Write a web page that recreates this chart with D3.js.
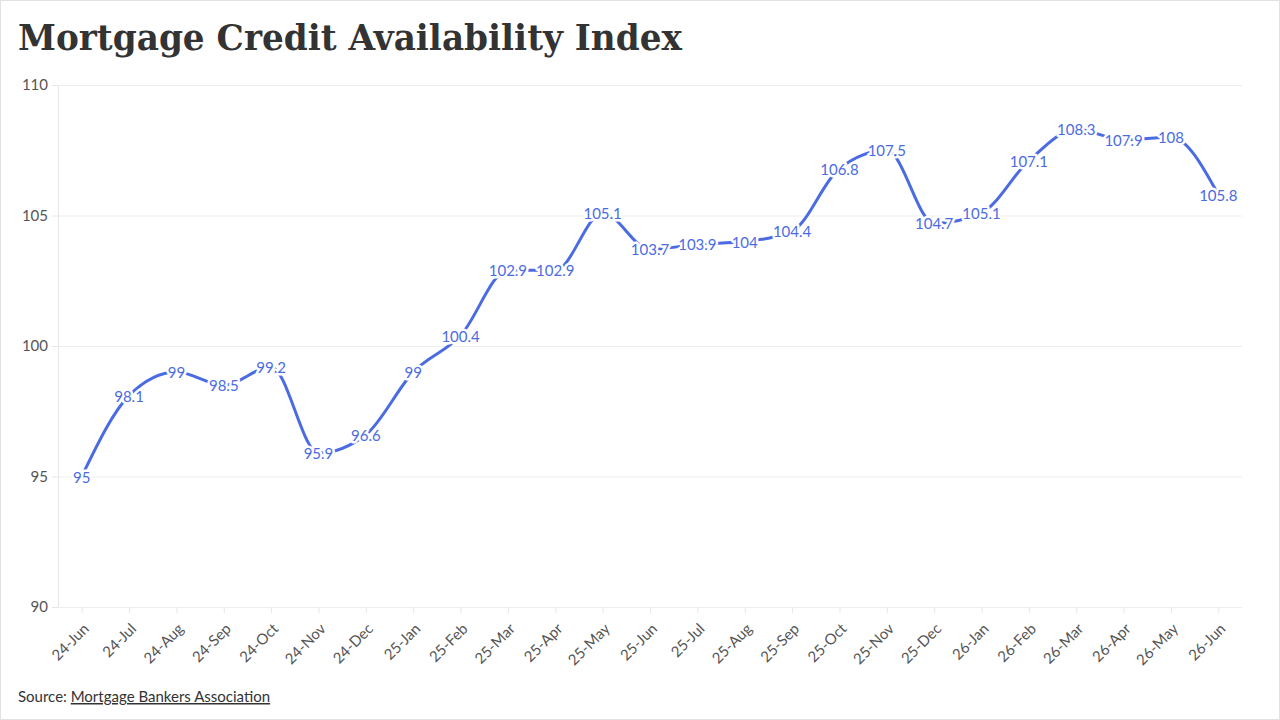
<!DOCTYPE html>
<html>
<head>
<meta charset="utf-8">
<script src="https://cdn.jsdelivr.net/npm/d3@7"></script>
<style>
  body { margin: 0; background: #fff; }
  text { font-family: Lato, "Noto Sans", sans-serif; }
</style>
</head>
<body>
<div id="chart"></div>
<script>
// Chart data
const months = ["24-Jun","24-Jul","24-Aug","24-Sep","24-Oct","24-Nov","24-Dec","25-Jan","25-Feb","25-Mar","25-Apr","25-May",
                "25-Jun","25-Jul","25-Aug","25-Sep","25-Oct","25-Nov","25-Dec","26-Jan","26-Feb","26-Mar","26-Apr","26-May","26-Jun"]
const values = [95, 98.1, 99, 98.5, 99.2, 95.9, 96.6, 99, 100.4, 102.9, 102.9, 105.1,
                103.7, 103.9, 104, 104.4, 106.8, 107.5, 104.7, 105.1, 107.1, 108.3, 107.9, 108, 105.8]
const yTicks = [90, 95, 100, 105, 110]

const title = "Mortgage Credit Availability Index"
const sourceName = "Mortgage Bankers Association"

// Chart parameters
const WIDTH = 1280
const HEIGHT = 720
const PLOT = {LEFT: 58, RIGHT: 1242, TOP: 85, BOTTOM: 607}
const LINE_COLOUR = "#4b6be3"

const data = months.map((m, i) => ({month: m, value: values[i]}))

const svg = d3.select("#chart").append("svg")
    .attr("width", WIDTH)
    .attr("height", HEIGHT)

// Light frame round the picture
svg.append("rect")
    .attr("x", 0.5).attr("y", 0.5)
    .attr("width", WIDTH - 1).attr("height", HEIGHT - 1)
    .attr("fill", "#fff")
    .attr("stroke", "#e2e2e2")

// Title
svg.append("text")
    .attr("x", 18)
    .attr("y", 50)
    .style("font-family", "'DejaVu Serif', 'Liberation Serif', serif")
    .style("font-weight", "bold")
    .style("font-size", "35px")
    .attr("textLength", 664)
    .attr("lengthAdjust", "spacingAndGlyphs")
    .attr("fill", "#333")
    .text(title)

// Scales
const xScale = d3.scalePoint()
    .domain(months)
    .range([PLOT.LEFT, PLOT.RIGHT])
    .padding(0.5)

const yScale = d3.scaleLinear()
    .domain([90, 110])
    .range([PLOT.BOTTOM, PLOT.TOP])

// Y axis with gridlines
const yAxis = svg.append("g")
    .attr("transform", "translate(" + PLOT.LEFT + ",0)")
    .call(d3.axisLeft(yScale).tickValues(yTicks).tickSize(6).tickPadding(4))
yAxis.select(".domain").attr("stroke", "#e6e6e6")
yAxis.selectAll(".tick line").attr("stroke", "#e6e6e6")
yAxis.selectAll(".tick text")
    .attr("fill", "#555")
    .style("font-size", "15px")
yAxis.selectAll(".tick").append("line")
    .attr("x1", 0).attr("x2", PLOT.RIGHT - PLOT.LEFT)
    .attr("stroke", "#eeeeee")

// X axis
const xAxis = svg.append("g")
    .attr("transform", "translate(0," + PLOT.BOTTOM + ")")
    .call(d3.axisBottom(xScale).tickSize(6))
xAxis.select(".domain").remove()
xAxis.selectAll(".tick line").attr("stroke", "#e6e6e6")
xAxis.selectAll(".tick text")
    .attr("fill", "#555")
    .style("font-size", "15px")
    .attr("text-anchor", "end")
    .attr("x", 0)
    .attr("y", 0)
    .attr("dy", "0.35em")
    .attr("transform", "translate(4,19) rotate(-45)")

// The line
const line = d3.line()
    .x(d => xScale(d.month))
    .y(d => yScale(d.value))
    .curve(d3.curveMonotoneX)

svg.append("path")
    .datum(data)
    .attr("fill", "none")
    .attr("stroke", LINE_COLOUR)
    .attr("stroke-width", 3)
    .attr("stroke-linejoin", "round")
    .attr("stroke-linecap", "round")
    .attr("d", line)

// Value labels with a white halo
svg.append("g")
    .selectAll("text")
    .data(data)
    .join("text")
    .attr("x", d => xScale(d.month))
    .attr("y", d => yScale(d.value))
    .attr("text-anchor", "middle")
    .attr("dominant-baseline", "central")
    .style("font-size", "15px")
    .attr("fill", LINE_COLOUR)
    .attr("stroke", "#fff")
    .attr("stroke-width", 5)
    .attr("stroke-linejoin", "round")
    .attr("paint-order", "stroke")
    .text(d => d.value)

// Source line
const src = svg.append("text")
    .attr("x", 18)
    .attr("y", 702)
    .style("font-size", "15px")
    .attr("fill", "#333")
src.append("tspan").text("Source: ")
src.append("tspan").style("text-decoration", "underline").text(sourceName)
</script>
</body>
</html>
